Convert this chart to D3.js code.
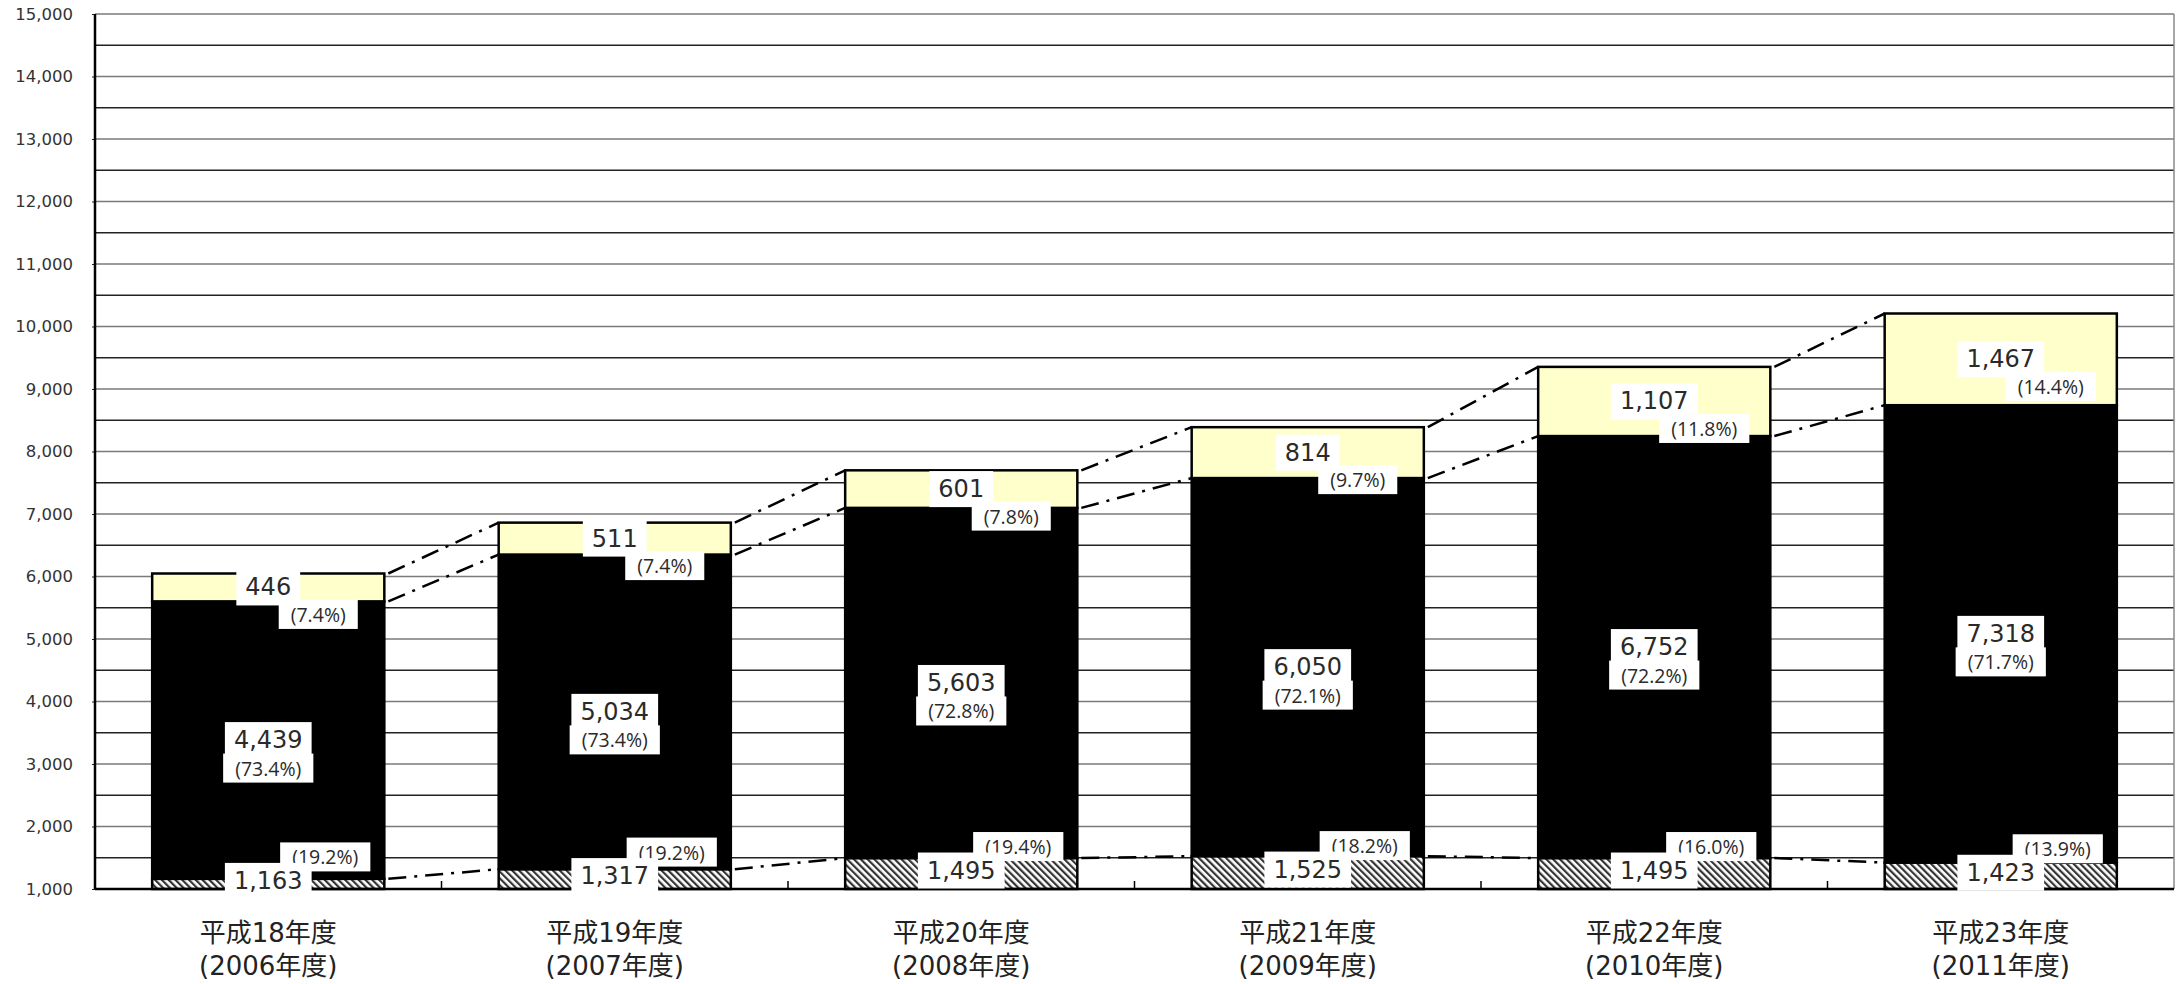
<!DOCTYPE html>
<html>
<head>
<meta charset="utf-8">
<script src="https://d3js.org/d3.v7.min.js"></script>
<style>
    html, body { margin: 0; padding: 0; background: #ffffff; }
    svg { display: block; }
</style>
</head>
<body>
<svg id="canvas"></svg>
<script>
"use strict"

// Chart data
const eraLabels = ["平成18年度", "平成19年度", "平成20年度", "平成21年度", "平成22年度", "平成23年度"];
const yearLabels = ["(2006年度)", "(2007年度)", "(2008年度)", "(2009年度)", "(2010年度)", "(2011年度)"];
const bottomValues = [1163, 1317, 1495, 1525, 1495, 1423];
const middleValues = [4439, 5034, 5603, 6050, 6752, 7318];
const topValues = [446, 511, 601, 814, 1107, 1467];
const bottomShares = [19.2, 19.2, 19.4, 18.2, 16.0, 13.9];
const middleShares = [73.4, 73.4, 72.8, 72.1, 72.2, 71.7];
const topShares = [7.4, 7.4, 7.8, 9.7, 11.8, 14.4];
const yTicks = [1000, 2000, 3000, 4000, 5000, 6000, 7000, 8000, 9000, 10000, 11000, 12000, 13000, 14000, 15000];

// Static sizes
const canvasWidth = 2177;
const canvasHeight = 984;
const chart = {
    left : 95,
    right : 2174,
    top : 14,
    bottom : 889
};

const canvas = d3.select("#canvas")
    .attr("width", canvasWidth)
    .attr("height", canvasHeight);

// Hatch pattern for the bottom segment
const defs = canvas.append("defs");
defs.append("pattern")
    .attr("id", "hatch")
    .attr("patternUnits", "userSpaceOnUse")
    .attr("width", 4.8)
    .attr("height", 4.8)
    .attr("patternTransform", "rotate(-45)")
    .call(p => {
        p.append("rect").attr("width", 4.8).attr("height", 4.8).attr("fill", "#ffffff");
        p.append("rect").attr("width", 2.2).attr("height", 4.8).attr("fill", "#333333");
    });

// Scales
const x = d3.scaleBand()
    .domain(eraLabels)
    .range([chart.left, chart.right])
    .paddingInner(0.33)
    .paddingOuter(0.165);

const band = d3.scaleBand()
    .domain(eraLabels)
    .range([chart.left, chart.right]);

const y = d3.scaleLinear()
    .domain([1000, 15000])
    .range([chart.bottom, chart.top]);

// Grid lines every 500
const gridValues = d3.range(1500, 15001, 500);
canvas.append("g")
    .selectAll("line")
    .data(gridValues)
    .enter()
    .append("line")
    .attr("x1", chart.left)
    .attr("x2", chart.right)
    .attr("y1", d => y(d))
    .attr("y2", d => y(d))
    .attr("stroke", d => d % 1000 === 0 ? "#7a7a7a" : "#222222")
    .attr("stroke-width", 1.5);

// Right border
canvas.append("line")
    .attr("x1", chart.right).attr("x2", chart.right)
    .attr("y1", chart.top).attr("y2", chart.bottom)
    .attr("stroke", "#8a8a8a")
    .attr("stroke-width", 1.5);

// Y axis labels
const yAxis = canvas.append("g")
    .attr("transform", `translate(${chart.left},0)`)
    .call(d3.axisLeft(y).tickValues(yTicks).tickSize(3).tickPadding(19).tickFormat(d3.format(",")));
yAxis.select(".domain").remove();
yAxis.selectAll("line").attr("stroke", "#222222");
yAxis.selectAll("text")
    .attr("fill", "#333333")
    .style("font-family", "'DejaVu Sans', sans-serif")
    .style("font-size", "16.5px");

// Stack the data
const rows = eraLabels.map((label, i) => ({
    label : label,
    bottom : bottomValues[i],
    middle : middleValues[i],
    top : topValues[i]
}));
const keys = ["bottom", "middle", "top"];
const fills = { bottom : "url(#hatch)", middle : "#000000", top : "#ffffcc" };
const series = d3.stack().keys(keys)(rows);

// Draw the bars
canvas.append("g")
    .selectAll("g")
    .data(series)
    .enter()
    .append("g")
    .attr("fill", d => fills[d.key])
    .selectAll("rect")
    .data(d => d)
    .enter()
    .append("rect")
    .attr("x", d => x(d.data.label))
    .attr("width", x.bandwidth())
    .attr("y", d => y(d[1]))
    .attr("height", d => y(Math.max(d[0], 1000)) - y(d[1]))
    .attr("stroke", "#000000")
    .attr("stroke-width", 2.5);

// Dash-dot connector lines between neighbouring bars
const connectors = canvas.append("g");
for(const s of series) {
    for(let i = 0; i < s.length - 1; ++i) {
        connectors.append("line")
            .attr("x1", x(eraLabels[i]) + x.bandwidth() + 4)
            .attr("y1", y(s[i][1]))
            .attr("x2", x(eraLabels[i + 1]))
            .attr("y2", y(s[i + 1][1]))
            .attr("stroke", "#000000")
            .attr("stroke-width", 2.5)
            .attr("stroke-dasharray", "18,8,3,8");
    }
}

// Baseline and left axis
canvas.append("line")
    .attr("x1", chart.left).attr("x2", chart.right)
    .attr("y1", chart.bottom).attr("y2", chart.bottom)
    .attr("stroke", "#000000").attr("stroke-width", 2.5);
canvas.append("line")
    .attr("x1", chart.left).attr("x2", chart.left)
    .attr("y1", chart.top).attr("y2", chart.bottom)
    .attr("stroke", "#000000").attr("stroke-width", 2.5);

// Category separator ticks
canvas.append("g")
    .selectAll("line")
    .data(eraLabels.slice(1))
    .enter()
    .append("line")
    .attr("x1", d => band(d))
    .attr("x2", d => band(d))
    .attr("y1", chart.bottom)
    .attr("y2", chart.bottom - 8)
    .attr("stroke", "#000000")
    .attr("stroke-width", 1.5);

// Draw a label with a white box behind it
function boxedLabel(parent, text, cx, cy, size, family, padX, padY) {
    const g = parent.append("g");
    const rect = g.append("rect").attr("fill", "#ffffff");
    const t = g.append("text")
        .text(text)
        .attr("x", cx)
        .attr("y", cy)
        .attr("text-anchor", "middle")
        .attr("dominant-baseline", "central")
        .attr("fill", "#2a2a2a")
        .style("font-family", family)
        .style("font-size", `${size}px`);
    const box = t.node().getBBox();
    rect.attr("x", box.x - padX)
        .attr("y", box.y - padY)
        .attr("width", box.width + padX * 2)
        .attr("height", box.height + padY * 2);
}

const numberFamily = "'DejaVu Sans', sans-serif";
const shareFamily = "'Open Sans', 'Noto Sans', sans-serif";
const formatNumber = d3.format(",");
const formatShare = d => `(${d.toFixed(1)}%)`;
const labels = canvas.append("g");

rows.forEach((row, i) => {
    const cx = x(row.label) + x.bandwidth() / 2;
    const bottomMid = y((1000 + row.bottom) / 2);
    const middleMid = y(row.bottom + row.middle / 2);
    const topMid = y(row.bottom + row.middle + row.top / 2);

    // Top segment
    boxedLabel(labels, formatNumber(row.top), cx, topMid, 24, numberFamily, 9, 4);
    boxedLabel(labels, formatShare(topShares[i]), cx + 50, topMid + 27, 19.5, shareFamily, 12, 1);

    // Middle segment
    boxedLabel(labels, formatNumber(row.middle), cx, middleMid, 24, numberFamily, 9, 4);
    boxedLabel(labels, formatShare(middleShares[i]), cx, middleMid + 28, 19.5, shareFamily, 12, 1);

    // Bottom segment
    boxedLabel(labels, formatShare(bottomShares[i]), cx + 57, bottomMid - 27, 19.5, shareFamily, 12, 1);
    boxedLabel(labels, formatNumber(row.bottom), cx, bottomMid - 3, 24, numberFamily, 9, 4);
});

// Category labels
const categoryLabels = canvas.append("g")
    .selectAll("g")
    .data(eraLabels)
    .enter()
    .append("g")
    .attr("transform", d => `translate(${band(d) + band.bandwidth() / 2},0)`)
    .style("font-family", "'DejaVu Sans', 'Noto Sans CJK JP', sans-serif")
    .style("font-size", "26px")
    .attr("fill", "#222222")
    .attr("text-anchor", "middle");

categoryLabels.append("text")
    .attr("y", 942)
    .text(d => d);
categoryLabels.append("text")
    .attr("y", 975)
    .text((d, i) => yearLabels[i]);
</script>
</body>
</html>
